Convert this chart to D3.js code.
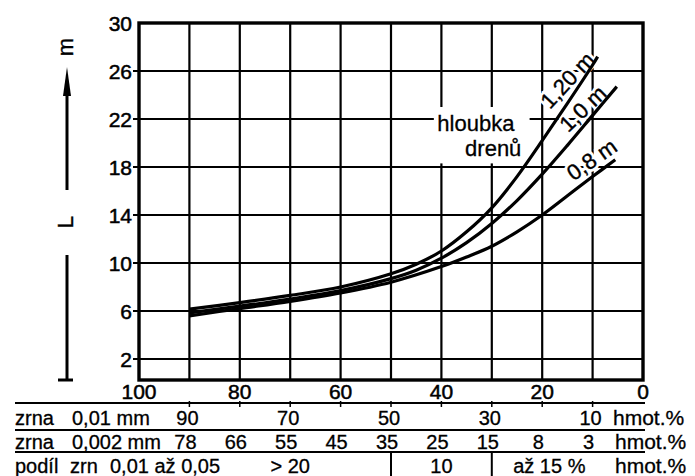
<!DOCTYPE html>
<html><head><meta charset="utf-8">
<script src="https://cdn.jsdelivr.net/npm/d3@7"></script>
<style>
body{margin:0;background:#fff;}
svg text{font-family:"Liberation Sans",Arial,sans-serif;fill:#000;}
</style></head><body>
<svg id="c" width="695" height="476"></svg>
<script>
// ---- data ----
const xTickLabels=[100,80,60,40,20,0];
const xGrid=[90,80,70,60,50,40,30,20,10];
const yTicks=[30,26,22,18,14,10,6,2];
const depthLabels=["1,20 m","1,0 m","0,8 m"];
const share120=[90,80,70,60,50,45,40,35,30,25,20,15,10,9];
const spacing120=[6.15,6.7,7.3,8.0,9.1,9.9,11.0,12.6,14.6,17.2,20.2,23.3,26.5,27.2];
const share100=[90,80,70,60,50,45,40,35,30,25,20,15,10,5.2];
const spacing100=[5.85,6.4,7.0,7.7,8.7,9.4,10.4,11.7,13.3,15.2,17.4,19.8,22.3,24.7];
const share080=[90,80,70,60,50,40,35,30,25,20,15,10,5.5];
const spacing080=[5.6,6.2,6.8,7.5,8.4,9.7,10.5,11.4,12.6,14.0,15.6,17.2,18.6];
const row1Labels=["zrna","0,01 mm"];
const row1Pos=[90,70,50,30,10];
const row1Values=["90","70","50","30","10"];
const row2Labels=["zrna","0,002 mm"];
const row2Pos=[90,80,70,60,50,40,30,20,10];
const row2Values=["78","66","55","45","35","25","15","8","3"];
const row3Labels=["podíl","zrn","0,01 až 0,05"];
const row3Values=["> 20","10","až 15 %"];
const row3Pos=[70,40,20];
const row3Dividers=[50,30];
const unitText="hmot.%";
const annot=["hloubka","drenů"];

// ---- layout ----
const svg=d3.select("#c");
const x=d3.scaleLinear().domain([100,0]).range([139,643]);
const y=d3.scaleLinear().domain([0.25,30]).range([380,23]);

// grid
const g=svg.append("g");
g.selectAll(".vg").data(xGrid).join("line")
 .attr("x1",d=>x(d)).attr("x2",d=>x(d)).attr("y1",y(30)).attr("y2",y(0.25))
 .attr("stroke","#000").attr("stroke-width",2.2);
g.selectAll(".hg").data(yTicks.filter(d=>d<30)).join("line")
 .attr("x1",x(100)-6).attr("x2",x(0)).attr("y1",d=>y(d)).attr("y2",d=>y(d))
 .attr("stroke","#000").attr("stroke-width",2.2);

// y tick labels
g.selectAll(".yl").data(yTicks).join("text")
 .attr("x",x(100)-7).attr("y",d=>y(d)+7.5).attr("text-anchor","end")
 .attr("font-size",21).attr("stroke","#000").attr("stroke-width",0.5).text(d=>d);
// x tick labels
g.selectAll(".xl").data(xTickLabels).join("text")
 .attr("x",d=>x(d)).attr("y",399).attr("text-anchor","middle")
 .attr("font-size",21).attr("stroke","#000").attr("stroke-width",0.5).text(d=>d);

// annotation box (breaks grid)
const ann=svg.append("g");
ann.append("rect").attr("x",x(41.5)).attr("y",y(23.0)).attr("width",x(22.5)-x(41.5)).attr("height",y(18.3)-y(23.0)).attr("fill","#fff");
ann.append("text").attr("x",x(40.8)).attr("y",y(21.0)).attr("font-size",22).attr("stroke","#000").attr("stroke-width",0.3).text(annot[0]);
ann.append("text").attr("x",x(35.3)).attr("y",y(18.95)).attr("font-size",22).attr("stroke","#000").attr("stroke-width",0.3).text(annot[1]);

// curves
const series=[
 {label:depthLabels[0],xs:share120,ys:spacing120,lx:13.9,ly:24.8,rot:-47},
 {label:depthLabels[1],xs:share100,ys:spacing100,lx:10.9,ly:22.4,rot:-44},
 {label:depthLabels[2],xs:share080,ys:spacing080,lx:9.3,ly:18.1,rot:-35}
];
const line=d3.line().x(d=>x(d[0])).y(d=>y(d[1])).curve(d3.curveCatmullRom.alpha(0.5));
series.forEach(s=>{
  svg.append("text").attr("transform",`translate(${x(s.lx)},${y(s.ly)}) rotate(${s.rot})`)
   .attr("text-anchor","middle").attr("font-size",22)
   .attr("stroke","#fff").attr("stroke-width",6).attr("fill","#fff").text(s.label);
});
series.forEach(s=>{
  svg.append("text").attr("transform",`translate(${x(s.lx)},${y(s.ly)}) rotate(${s.rot})`)
   .attr("text-anchor","middle").attr("font-size",22)
   .attr("stroke","#000").attr("stroke-width",0.4).text(s.label);
});
series.forEach(s=>{
  const pts=s.xs.map((v,i)=>[v,s.ys[i]]).sort((a,b)=>b[0]-a[0]);
  svg.append("path").attr("d",line(pts)).attr("fill","none").attr("stroke","#000").attr("stroke-width",3.2);
});

// frame
svg.append("rect").attr("x",x(100)).attr("y",y(30)).attr("width",x(0)-x(100)).attr("height",y(0.25)-y(30))
 .attr("fill","none").attr("stroke","#000").attr("stroke-width",3.4);

// left axis label
const la=svg.append("g");
la.append("text").attr("transform",`translate(73,47) rotate(-90)`).attr("text-anchor","middle").attr("font-size",22).attr("stroke","#000").attr("stroke-width",0.4).text("m");
la.append("line").attr("x1",67).attr("x2",67).attr("y1",190).attr("y2",88).attr("stroke","#000").attr("stroke-width",3);
la.append("path").attr("d","M67,67 L63,96 L71,96 Z").attr("fill","#000");
la.append("text").attr("transform",`translate(73,222) rotate(-90)`).attr("text-anchor","middle").attr("font-size",22).attr("stroke","#000").attr("stroke-width",0.4).text("L");
la.append("line").attr("x1",67).attr("x2",67).attr("y1",255).attr("y2",380).attr("stroke","#000").attr("stroke-width",3);
la.append("line").attr("x1",58).attr("x2",73).attr("y1",380).attr("y2",380).attr("stroke","#000").attr("stroke-width",3);

// table
const t=svg.append("g");
[403,430,452].forEach(yy=>{
  t.append("line").attr("x1",15).attr("x2",645).attr("y1",yy).attr("y2",yy).attr("stroke","#000").attr("stroke-width",2.2);
});
t.selectAll(".tk").data(xGrid).join("line").attr("x1",d=>x(d)).attr("x2",d=>x(d)).attr("y1",401).attr("y2",407).attr("stroke","#000").attr("stroke-width",1.5);
const ts=20;
function txt(xx,yy,s,anchor,fs){t.append("text").attr("x",xx).attr("y",yy).attr("font-size",fs||ts).attr("text-anchor",anchor||"start").attr("stroke","#000").attr("stroke-width",0.3).text(s);}
txt(15,425,row1Labels[0]); txt(72,425,row1Labels[1]);
row1Pos.forEach((p,i)=>txt(x(p)-2,425,row1Values[i],"middle"));
txt(613,425,unitText,"start",21);
txt(15,449,row2Labels[0]); txt(72,449,row2Labels[1]);
row2Pos.forEach((p,i)=>txt(x(p)-4,449,row2Values[i],"middle"));
txt(615,449,unitText,"start",21);
txt(15,473,row3Labels[0]); txt(70,473,row3Labels[1]); txt(110,473,row3Labels[2]);
txt(x(row3Pos[0]),473,row3Values[0],"middle");
txt(x(row3Pos[1]),473,row3Values[1],"middle");
txt(x(row3Pos[2])-29,473,row3Values[2]);
txt(615,473,unitText,"start",21);
row3Dividers.forEach(p=>t.append("line").attr("x1",x(p)).attr("x2",x(p)).attr("y1",452).attr("y2",476).attr("stroke","#000").attr("stroke-width",2));
</script></body></html>
